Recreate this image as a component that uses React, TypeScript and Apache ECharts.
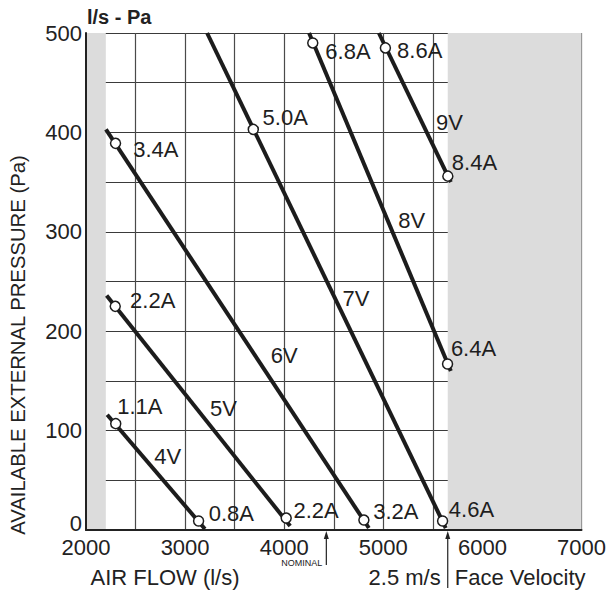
import React, { useEffect, useRef } from "react";
import * as echarts from "echarts";

// Axis ticks
const xTicks = [2000, 3000, 4000, 5000, 6000, 7000];
const yTicks = [0, 100, 200, 300, 400, 500];

// Shaded (out of range) airflow bands
const shadeBands = [
  [2000, 2200],
  [5650, 7000],
];

// Fan curves: [start, end] in (l/s, Pa)
const fan4V = [[2214, 116], [3200, 1]];
const fan5V = [[2208, 236], [4060, 4]];
const fan6V = [[2201, 403], [4854, 2]];
const fan7V = [[3222, 500], [5630, 2]];
const fan8V = [[4251, 500], [5681, 160]];
const fan9V = [[4955, 500], [5681, 350]];

// Operating points (open circles)
const opPoints = [
  [2300, 107], [3136, 9],
  [2295, 225], [4020, 12],
  [2298, 389], [4804, 10],
  [3688, 403], [5598, 9],
  [4288, 490], [5648, 167],
  [5021, 485], [5651, 356],
];

// Annotation labels: [x, y, text]
const labels: [number, number, string][] = [
  [2543, 124, "1.1A"],
  [2824, 74, "4V"],
  [3467, 17, "0.8A"],
  [3387, 122, "5V"],
  [4322, 20, "2.2A"],
  [2673, 231, "2.2A"],
  [2704, 383, "3.4A"],
  [4000, 176, "6V"],
  [4724, 233, "7V"],
  [5286, 311, "8V"],
  [5668, 410, "9V"],
  [4010, 415, "5.0A"],
  [4643, 481, "6.8A"],
  [5367, 482, "8.6A"],
  [5920, 370, "8.4A"],
  [5910, 183, "6.4A"],
  [5126, 19, "3.2A"],
  [5889, 21, "4.6A"],
];

const nominalFlow = 4425;
const faceVelocityFlow = 5650;

const FONT = "'Liberation Sans', Arial, Helvetica, sans-serif";
const INK = "#1c1c1c";

export default function App() {
  const ref = useRef<HTMLDivElement>(null);

  useEffect(() => {
    if (!ref.current) return;
    const chart = echarts.init(ref.current, undefined, { renderer: "svg" });

    const fanSeries = [fan4V, fan5V, fan6V, fan7V, fan8V, fan9V].map((d, i) => ({
      type: "line",
      name: "fan" + (i + 4),
      data: d,
      showSymbol: false,
      symbol: "none",
      z: 3,
      lineStyle: { color: INK, width: 4, cap: "butt" },
      silent: true,
    }));

    const option: any = {
      animation: false,
      grid: { left: 86, top: 33, width: 497, height: 497, containLabel: false },
      xAxis: {
        type: "value",
        min: 2000,
        max: 7000,
        interval: 500,
        z: 1,
        axisLine: { show: true, lineStyle: { color: "#222", width: 2 } },
        axisTick: { show: false },
        axisLabel: {
          margin: 6,
          fontSize: 22,
          fontFamily: FONT,
          color: "#222",
          formatter: (v: number) => (xTicks.includes(v) ? String(v) : ""),
        },
        splitLine: { show: true, lineStyle: { color: "#4a4a4a", width: 1.2 } },
      },
      yAxis: {
        type: "value",
        min: 0,
        max: 500,
        interval: 50,
        z: 1,
        axisLine: { show: true, lineStyle: { color: "#222", width: 2 } },
        axisTick: { show: false },
        axisLabel: {
          margin: 4,
          fontSize: 22,
          fontFamily: FONT,
          color: "#222",
          formatter: (v: number) =>
            v === 0 ? "{zero|0}" : yTicks.includes(v) ? String(v) : "",
          rich: {
            zero: { fontSize: 22, fontFamily: FONT, color: "#222", padding: [0, 0, 14, 0] },
          },
        },
        splitLine: { show: true, lineStyle: { color: "#3a3a3a", width: 1.2 } },
      },
      series: [
        {
          type: "line",
          name: "shade",
          data: [],
          z: 0,
          silent: true,
          markArea: {
            silent: true,
            itemStyle: { color: "#dcdcdc" },
            data: shadeBands.map((b) => [{ xAxis: b[0], yAxis: 0 }, { xAxis: b[1], yAxis: 500 }]),
          },
        },
        ...fanSeries,
        {
          type: "scatter",
          name: "points",
          data: opPoints,
          symbol: "circle",
          symbolSize: 10,
          z: 4,
          silent: true,
          itemStyle: { color: "#ffffff", borderColor: INK, borderWidth: 1.5, opacity: 1 },
        },
        {
          type: "scatter",
          name: "labels",
          data: labels.map((l) => ({ value: [l[0], l[1]], name: l[2] })),
          symbolSize: 0,
          z: 5,
          silent: true,
          itemStyle: { opacity: 1 },
          label: {
            show: true,
            position: "inside",
            formatter: (p: any) => p.name,
            fontSize: 22,
            fontFamily: FONT,
            color: "#1e1e1e",
            opacity: 1,
          },
        },
      ],
    };

    chart.setOption(option);

    const nx = chart.convertToPixel({ gridIndex: 0 }, [nominalFlow, 0]) as number[];
    const fx = chart.convertToPixel({ gridIndex: 0 }, [faceVelocityFlow, 0]) as number[];
    const axisY = nx[1];

    const arrow = (x: number, y1: number, y2: number) => [
      {
        type: "line",
        shape: { x1: x, y1: y1 + 6, x2: x, y2 },
        style: { stroke: "#222", lineWidth: 1.2 },
        silent: true,
      },
      {
        type: "polygon",
        shape: { points: [[x - 2.5, y1 + 9], [x + 2.5, y1 + 9], [x, y1 + 1]] },
        style: { fill: "#222" },
        silent: true,
      },
    ];

    chart.setOption({
      graphic: [
        {
          type: "text",
          left: 87,
          top: 7,
          style: { text: "l/s - Pa", fontSize: 20, fontWeight: "bold", fontFamily: FONT, fill: "#222" },
        },
        {
          type: "text",
          x: 18,
          y: 345,
          rotation: Math.PI / 2,
          style: {
            text: "AVAILABLE EXTERNAL PRESSURE (Pa)",
            fontSize: 20.3,
            fontFamily: FONT,
            fill: "#222",
            align: "center",
            verticalAlign: "middle",
            textAlign: "center",
            textVerticalAlign: "middle",
          },
        },
        {
          type: "text",
          x: 165,
          y: 577,
          style: {
            text: "AIR FLOW (l/s)",
            fontSize: 22,
            fontFamily: FONT,
            fill: "#222",
            textAlign: "center",
            textVerticalAlign: "middle",
            verticalAlign: "middle",
          },
        },
        {
          type: "text",
          x: nx[0] - 4,
          y: 563,
          style: {
            text: "NOMINAL",
            fontSize: 9,
            fontFamily: FONT,
            fill: "#222",
            textAlign: "right",
            textVerticalAlign: "middle",
            verticalAlign: "middle",
          },
        },
        {
          type: "text",
          x: fx[0] - 7,
          y: 577,
          style: {
            text: "2.5 m/s",
            fontSize: 22,
            fontFamily: FONT,
            fill: "#222",
            textAlign: "right",
            textVerticalAlign: "middle",
            verticalAlign: "middle",
          },
        },
        {
          type: "text",
          x: fx[0] + 7,
          y: 577,
          style: {
            text: "Face Velocity",
            fontSize: 22,
            fontFamily: FONT,
            fill: "#222",
            textAlign: "left",
            textVerticalAlign: "middle",
            verticalAlign: "middle",
          },
        },
        ...arrow(nx[0], axisY, 565),
        ...arrow(fx[0], axisY, 588),
      ],
    });

    return () => chart.dispose();
  }, []);

  return (
    <div
      ref={ref}
      style={{ position: "fixed", left: 0, top: 0, width: 609, height: 593, background: "#fff" }}
    />
  );
}
